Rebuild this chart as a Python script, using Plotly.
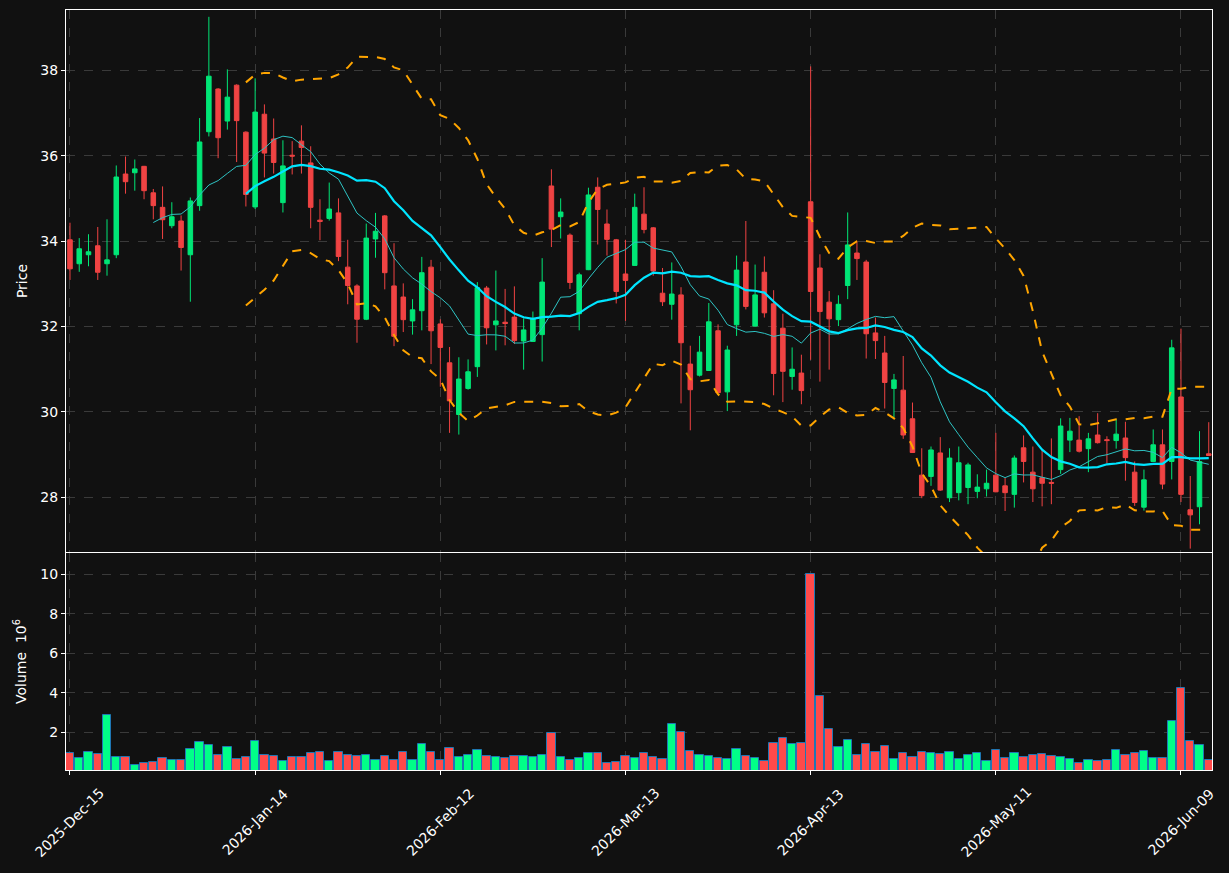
import pandas as pd
import numpy as np
import plotly.graph_objects as go
from plotly.subplots import make_subplots

# ---------------- data ----------------
holidays = ["2025-12-25", "2026-01-01", "2026-01-19", "2026-02-16", "2026-04-03", "2026-05-25"]
dates = pd.bdate_range("2025-12-15", "2026-06-12", freq="C", holidays=holidays)

opens = [34.03, 33.47, 33.68, 33.89, 33.47, 33.68, 35.57, 35.60, 35.75, 35.13,
         34.79, 34.36, 34.47, 33.68, 34.83, 36.56, 37.56, 36.81, 37.65, 36.55,
         34.80, 36.97, 36.39, 34.90, 36.01, 36.34, 35.83, 34.49, 34.53, 34.66,
         33.39, 32.95, 32.17, 34.05, 34.59, 32.95, 32.69, 32.13, 32.37, 33.39,
         32.06, 31.15, 29.94, 30.55, 31.06, 32.90, 32.04, 32.10, 32.22, 31.66,
         31.65, 31.81, 35.29, 34.57, 34.14, 32.30, 33.33, 35.26, 34.40, 34.03,
         33.23, 33.43, 34.63, 34.31, 32.78, 32.52, 32.74, 31.12, 30.86, 30.97,
         31.90, 30.47, 32.04, 33.51, 32.01, 33.27, 32.53, 31.96, 30.83, 30.91,
         34.92, 33.37, 32.57, 32.16, 32.96, 33.72, 33.51, 31.85, 31.38, 30.55,
         30.51, 29.84, 28.52, 28.49, 29.04, 27.99, 28.11, 28.23, 28.14, 28.20,
         28.52, 28.27, 28.07, 29.16, 28.59, 28.46, 28.35, 28.65, 29.34, 29.34,
         29.14, 29.46, 29.35, 29.33, 29.39, 28.59, 27.77, 28.84, 29.23, 28.84,
         30.35, 27.71, 27.78, 29.02]
highs = [34.43, 34.07, 34.16, 34.33, 34.51, 35.77, 35.98, 35.91, 35.76, 35.22,
         35.28, 34.91, 34.60, 35.02, 36.88, 39.25, 37.58, 38.02, 37.67, 36.57,
         37.81, 37.20, 36.87, 36.36, 36.34, 36.71, 36.22, 34.98, 35.37, 35.00,
         34.03, 32.99, 34.41, 34.66, 34.61, 33.95, 33.01, 32.64, 33.63, 33.56,
         32.17, 31.52, 31.28, 31.23, 33.04, 32.95, 33.31, 32.88, 32.94, 32.19,
         32.35, 33.60, 35.68, 35.00, 34.18, 33.26, 35.25, 35.49, 34.74, 34.05,
         34.03, 35.11, 35.26, 34.33, 33.37, 33.50, 32.92, 31.55, 31.78, 32.55,
         32.05, 31.55, 33.66, 34.47, 33.45, 33.64, 32.85, 32.30, 31.51, 31.34,
         38.09, 33.69, 32.83, 32.73, 34.67, 34.00, 33.56, 32.21, 31.78, 30.89,
         31.31, 30.22, 29.15, 29.19, 29.41, 29.15, 29.19, 28.81, 28.54, 28.65,
         29.51, 28.46, 28.98, 29.45, 29.19, 29.11, 29.38, 29.85, 29.86, 29.90,
         29.51, 29.97, 29.43, 29.83, 29.77, 28.84, 28.65, 29.59, 29.59, 31.69,
         31.95, 28.50, 29.55, 29.76]
lows = [33.09, 33.28, 33.41, 33.09, 33.19, 33.60, 35.11, 35.18, 34.98, 34.51,
        34.05, 34.30, 33.31, 32.58, 34.71, 36.45, 35.94, 36.61, 35.85, 34.81,
        34.75, 35.49, 35.58, 34.67, 35.56, 35.58, 34.30, 34.02, 34.48, 33.53,
        32.52, 31.62, 32.15, 33.61, 32.87, 31.54, 31.87, 31.81, 31.91, 31.12,
        30.59, 29.51, 29.47, 30.52, 30.82, 31.58, 31.44, 31.56, 31.59, 30.99,
        31.64, 31.18, 33.86, 34.06, 32.88, 31.91, 33.32, 33.92, 33.66, 32.54,
        32.13, 33.42, 34.18, 33.19, 32.48, 32.16, 30.20, 29.57, 30.83, 30.96,
        30.44, 30.02, 31.78, 32.40, 32.00, 32.21, 30.39, 30.23, 30.52, 30.18,
        31.22, 30.71, 30.99, 32.01, 32.64, 33.09, 31.25, 31.24, 30.08, 29.87,
        29.37, 29.04, 27.98, 28.27, 28.15, 27.89, 27.93, 27.84, 27.98, 28.02,
        28.12, 27.68, 27.76, 28.35, 27.89, 27.79, 27.84, 28.55, 29.06, 29.05,
        28.59, 29.26, 28.80, 29.14, 28.39, 27.80, 27.69, 28.83, 28.19, 28.42,
        27.89, 26.80, 27.37, 28.98]
closes = [33.35, 33.82, 33.75, 33.27, 33.56, 35.50, 35.39, 35.69, 35.18, 34.83,
          34.50, 34.57, 33.85, 34.94, 36.32, 37.86, 36.42, 37.37, 36.82, 35.09,
          37.02, 36.06, 35.84, 35.76, 35.99, 36.19, 34.79, 34.46, 34.75, 33.64,
          32.96, 32.17, 34.07, 34.23, 33.26, 31.77, 32.16, 32.39, 33.26, 31.90,
          31.51, 30.26, 30.77, 30.94, 32.91, 31.97, 32.13, 32.07, 31.67, 31.92,
          32.19, 33.04, 34.28, 34.68, 33.03, 33.21, 35.08, 34.74, 34.04, 32.82,
          33.08, 34.79, 34.27, 33.30, 32.58, 32.76, 31.62, 30.52, 31.40, 32.11,
          30.45, 31.45, 33.32, 32.47, 32.74, 32.32, 30.90, 30.95, 31.00, 30.50,
          32.82, 32.35, 32.18, 32.52, 33.91, 33.59, 31.83, 31.67, 30.69, 30.75,
          29.46, 29.05, 28.04, 29.11, 28.17, 28.92, 28.81, 28.76, 28.24, 28.33,
          28.13, 28.11, 28.92, 28.84, 28.20, 28.33, 28.33, 29.67, 29.55, 29.08,
          29.37, 29.28, 29.33, 29.48, 28.93, 27.88, 28.41, 29.23, 28.31, 31.50,
          28.07, 27.59, 28.84, 28.98]
volumes_m = [0.94, 0.68, 0.99, 0.90, 2.86, 0.73, 0.73, 0.33, 0.43, 0.48,
             0.68, 0.58, 0.58, 1.14, 1.49, 1.34, 0.84, 1.24, 0.63, 0.73,
             1.54, 0.84, 0.78, 0.53, 0.73, 0.73, 0.94, 0.99, 0.53, 0.99,
             0.84, 0.78, 0.84, 0.62, 0.78, 0.62, 0.99, 0.58, 1.39, 0.99,
             0.62, 1.19, 0.73, 0.84, 1.09, 0.78, 0.73, 0.68, 0.78, 0.78,
             0.73, 0.84, 1.95, 0.73, 0.62, 0.68, 0.94, 0.94, 0.43, 0.48,
             0.78, 0.68, 0.94, 0.73, 0.63, 2.41, 2.00, 1.04, 0.84, 0.78,
             0.68, 0.63, 1.14, 0.78, 0.68, 0.53, 1.44, 1.70, 1.39, 1.44,
             10.03, 3.82, 2.15, 1.24, 1.59, 0.84, 1.39, 0.99, 1.29, 0.63,
             0.94, 0.73, 0.99, 0.94, 0.89, 0.99, 0.63, 0.84, 0.94, 0.53,
             1.09, 0.68, 0.94, 0.73, 0.84, 0.89, 0.78, 0.73, 0.63, 0.43,
             0.58, 0.53, 0.58, 1.09, 0.84, 0.94, 1.04, 0.68, 0.68, 2.56,
             4.23, 1.54, 1.34, 0.58]
tick_idx = [0, 20, 40, 60, 80, 100, 120]

# ---------------- derived ----------------
idx = list(range(len(closes)))
cs = pd.Series(closes)
ma10 = cs.rolling(10).mean()
ma20 = cs.rolling(20).mean()
sd20 = cs.rolling(20).std(ddof=0)
bb_up = ma20 + 2 * sd20
bb_lo = ma20 - 2 * sd20
tick_text = [dates[i].strftime("%Y-%b-%d") for i in tick_idx]

UP = "#00E676"
DN = "#F04343"
UPV = "#00FF88"
DNV = "#FF4A4A"
vol_colors = [UPV if c >= o else DNV for o, c in zip(opens, closes)]

BG = "#111111"
GRID = "#3a3a3a"

fig = make_subplots(rows=2, cols=1, shared_xaxes=True)

fig.add_trace(go.Candlestick(
    x=idx, open=opens, high=highs, low=lows, close=closes,
    increasing=dict(line=dict(color=UP, width=1), fillcolor=UP),
    decreasing=dict(line=dict(color=DN, width=1), fillcolor=DN),
    whiskerwidth=0, hoverinfo="skip"), row=1, col=1)

fig.add_trace(go.Scatter(x=idx, y=ma10, mode="lines",
                         line=dict(color="#2EC4C4", width=1)), row=1, col=1)
fig.add_trace(go.Scatter(x=idx, y=ma20, mode="lines",
                         line=dict(color="#00E5FF", width=2.2)), row=1, col=1)
fig.add_trace(go.Scatter(x=idx, y=bb_up, mode="lines",
                         line=dict(color="#FFA500", width=2, dash="dash")), row=1, col=1)
fig.add_trace(go.Scatter(x=idx, y=bb_lo, mode="lines",
                         line=dict(color="#FFA500", width=2, dash="dash")), row=1, col=1)

fig.add_trace(go.Bar(x=idx, y=volumes_m, width=0.9,
                     marker=dict(color=vol_colors, line=dict(color="#1f77b4", width=1))),
              row=2, col=1)

axis_common = dict(showline=True, linecolor="white", linewidth=1, mirror=True,
                   showgrid=True, gridcolor=GRID, griddash="dash", gridwidth=1,
                   ticks="outside", tickcolor="white", ticklen=4, zeroline=False,
                   automargin=False, tickfont=dict(color="white", size=14))

fig.update_xaxes(**axis_common)
fig.update_yaxes(**axis_common)

# rotated date labels, centred on their ticks
for ti, tt in zip(tick_idx, tick_text):
    fig.add_annotation(x=ti, xref="x2", y=0, yref="paper", yshift=-52,
                       text=tt, textangle=-45, showarrow=False,
                       xanchor="center", yanchor="middle",
                       font=dict(size=14, color="white"))

fig.update_layout(
    width=1229, height=873,
    paper_bgcolor=BG, plot_bgcolor=BG,
    showlegend=False, bargap=0,
    font=dict(family="DejaVu Sans", size=14, color="white"),
    margin=dict(l=66, r=17, t=10, b=103, autoexpand=False),
    xaxis=dict(range=[-0.43, 123.35], tickvals=tick_idx, ticktext=tick_text,
               showticklabels=False, rangeslider=dict(visible=False)),
    xaxis2=dict(range=[-0.43, 123.35], tickvals=tick_idx, ticktext=tick_text,
                showticklabels=False, matches="x"),
    yaxis=dict(domain=[0.2868, 1.0], range=[26.72, 39.41], tickvals=[28, 30, 32, 34, 36, 38],
               title=dict(text="Price", font=dict(size=14, color="white"), standoff=9)),
    yaxis2=dict(domain=[0.0, 0.2855], range=[0.093, 11.08], tickvals=[2, 4, 6, 8, 10],
                title=dict(text="Volume  10<sup>6</sup>", font=dict(size=14, color="white"),
                           standoff=10)),
)

fig.write_html("out.html")
